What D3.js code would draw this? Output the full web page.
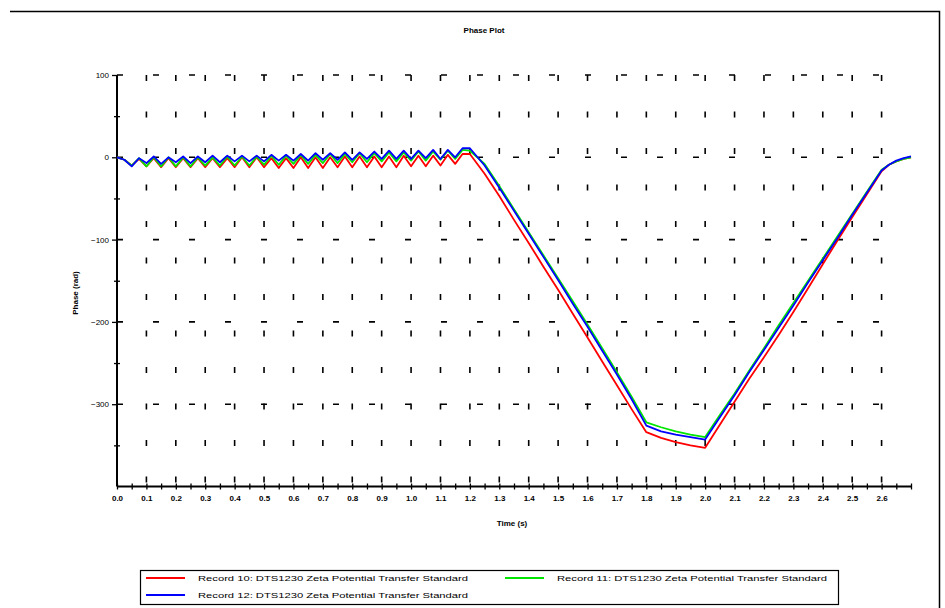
<!DOCTYPE html>
<html><head><meta charset="utf-8">
<script src="https://cdn.jsdelivr.net/npm/d3@7"></script>
<style>
body{margin:0;background:#fff;}
text{font-family:"Liberation Sans",Arial,sans-serif;fill:#000;}
</style></head>
<body><svg id="c" width="945" height="608"></svg>
<script>
const time = [0,0.025,0.05,0.075,0.1,0.125,0.15,0.175,0.2,0.225,0.25,0.275,0.3,0.325,0.35,0.375,0.4,0.425,0.45,0.475,0.5,0.525,0.55,0.575,0.6,0.625,0.65,0.675,0.7,0.725,0.75,0.775,0.8,0.825,0.85,0.875,0.9,0.925,0.95,0.975,1.0,1.025,1.05,1.075,1.1,1.125,1.15,1.175,1.2,
  1.25,1.3,1.35,1.4,1.45,1.5,1.55,1.6,1.65,1.7,1.75,1.8,1.85,1.9,1.95,2.0,2.05,2.1,2.15,2.2,2.25,2.3,2.35,2.4,2.45,2.5,2.55,2.6,2.625,2.65,2.675,2.7];
const record10 = [0,-3,-10,-2,-11,-1,-12,-1,-12,-1,-12,-1,-12,-1,-12,-1,-12,0,-12,0,-12,-1,-13,-1,-13,0,-13,0,-13,0,-12,1,-12,1,-12,1,-12,1,-12,2,-11,2,-11,2,-10,3,-8,4,4,
  -20,-47,-76,-104,-133,-161,-190,-219,-248,-277,-306,-334,-341,-346,-350,-353,-325,-297,-269,-243,-216,-188,-159,-130,-101,-73,-45,-17,-9,-5,-2,0];
const record11 = [0,-3,-10,-1,-11,0,-11,0,-11,0,-11,0,-10,0,-10,1,-10,1,-10,1,-9,2,-9,2,-8,3,-8,3,-7,4,-7,4,-6,5,-6,5,-5,6,-5,6,-4,7,-4,7,-3,8,-2,9,8,
  -8,-35,-63,-91,-119,-147,-175,-203,-232,-261,-291,-322,-328,-333,-337,-340,-313,-287,-259,-232,-204,-177,-150,-123,-96,-69,-42,-15,-9,-5,-2,0];
const record12 = [0,-3,-11,-1,-7,1,-8,0,-6,1,-7,1,-6,2,-6,2,-5,2,-5,2,-5,3,-4,3,-4,4,-4,5,-3,5,-3,6,-3,6,-2,7,-2,8,-2,8,-2,8,-1,9,-2,9,0,11,11,
  -10,-37,-65,-93,-121,-149,-178,-206,-235,-264,-294,-326,-333,-337,-340,-343,-316,-289,-261,-234,-207,-180,-152,-125,-98,-70,-43,-16,-9,-4,-1,1];
const seriesNames = ["Record 10: DTS1230 Zeta Potential Transfer Standard","Record 11: DTS1230 Zeta Potential Transfer Standard","Record 12: DTS1230 Zeta Potential Transfer Standard"];
const seriesColors = ["#ff0000","#00e600","#0000ff"];
const xTicks = [0,0.1,0.2,0.3,0.4,0.5,0.6,0.7,0.8,0.9,1.0,1.1,1.2,1.3,1.4,1.5,1.6,1.7,1.8,1.9,2.0,2.1,2.2,2.3,2.4,2.5,2.6];
const xMinor = [0.05,0.15,0.25,0.35,0.45,0.55,0.65,0.75,0.85,0.95,1.05,1.15,1.25,1.35,1.45,1.55,1.65,1.75,1.85,1.95,2.05,2.15,2.25,2.35,2.45,2.55,2.65,2.7];
const yTicks = [100,0,-100,-200,-300];
const yMinor = [50,-50,-150,-250,-350];
const title = "Phase Plot", xLabel = "Time (s)", yLabel = "Phase (rad)";

const svg = d3.select("#c");
const x = d3.scaleLinear().domain([0,2.7]).range([117,911]);
const y = d3.scaleLinear().domain([-400,100]).range([486.5,75]);

// outer frame
svg.append("path").attr("d","M10,11.5H939.5V608").attr("fill","none").attr("stroke","#000").attr("stroke-width",1.5);

// grid
const g = svg.append("g");
g.selectAll(".vg").data(xTicks.slice(1)).enter().append("line")
  .attr("x1",d=>x(d)).attr("x2",d=>x(d)).attr("y1",y(100)).attr("y2",y(-400))
  .attr("stroke","#000").attr("stroke-width",1.6).attr("stroke-dasharray","6,30.5");
g.selectAll(".hg").data(yTicks).enter().append("line")
  .attr("x1",x(0)).attr("x2",x(2.6)+1).attr("y1",d=>y(d)).attr("y2",d=>y(d))
  .attr("stroke","#000").attr("stroke-width",1.6).attr("stroke-dasharray","6,30");

// axes
const xa = svg.append("g").attr("transform",`translate(0,${y(-400)})`)
  .call(d3.axisBottom(x).tickValues(xTicks).tickSize(3).tickPadding(6).tickFormat(d3.format(".1f")));
const xm = svg.append("g").attr("transform",`translate(0,${y(-400)})`)
  .call(d3.axisBottom(x).tickValues(xMinor).tickSize(3).tickFormat(""));
[xa,xm].forEach(a=>{a.selectAll(".tick line").attr("y1",-3).attr("stroke-width",1.3); a.select(".domain").remove();});
xa.selectAll("text").attr("font-size","8px").attr("font-family","Liberation Sans, Arial, sans-serif").attr("font-weight","bold");
svg.append("line").attr("x1",x(0)).attr("x2",x(2.7)).attr("y1",y(-400)).attr("y2",y(-400)).attr("stroke","#000").attr("stroke-width",2);

const ya = svg.append("g").attr("transform",`translate(${x(0)},0)`)
  .call(d3.axisLeft(y).tickValues(yTicks).tickSize(5).tickPadding(3));
const ym = svg.append("g").attr("transform",`translate(${x(0)},0)`)
  .call(d3.axisLeft(y).tickValues(yMinor).tickSize(3).tickFormat(""));
ym.selectAll(".tick line").attr("x2",-3).attr("x1",3);
[ya,ym].forEach(a=>{a.selectAll(".tick line").attr("stroke-width",1.3); a.select(".domain").remove();});
ya.selectAll("text").attr("font-size","8px").attr("font-family","Liberation Sans, Arial, sans-serif");
svg.append("line").attr("x1",x(0)).attr("x2",x(0)).attr("y1",y(100)).attr("y2",y(-400)).attr("stroke","#000").attr("stroke-width",2);

// lines
const data = [record10, record11, record12];
const line = d3.line().x((d,i)=>x(time[i])).y(d=>y(d));
svg.append("g").selectAll("path").data(data).enter().append("path")
  .attr("d",line).attr("fill","none").attr("stroke",(d,i)=>seriesColors[i]).attr("stroke-width",1.8).attr("stroke-linejoin","round");

// labels
svg.append("text").attr("x",484).attr("y",33).attr("text-anchor","middle").attr("font-size","8px").attr("font-weight","bold").text(title);
svg.append("text").attr("x",512).attr("y",526).attr("text-anchor","middle").attr("font-size","8px").attr("font-weight","bold").text(xLabel);
svg.append("text").attr("transform","translate(78,293) rotate(-90)").attr("text-anchor","middle").attr("font-size","8px").attr("font-weight","bold").text(yLabel);

// legend
svg.append("rect").attr("x",140.5).attr("y",570.5).attr("width",698).attr("height",34).attr("fill","none").attr("stroke","#000").attr("stroke-width",1.2);
const leg = [{i:0,lx:146,ly:578},{i:1,lx:505,ly:578},{i:2,lx:146,ly:595}];
leg.forEach(l=>{
  svg.append("line").attr("x1",l.lx).attr("x2",l.lx+39).attr("y1",l.ly).attr("y2",l.ly).attr("stroke",seriesColors[l.i]).attr("stroke-width",2);
  svg.append("text").attr("x",l.lx+52).attr("y",l.ly+3).attr("font-size","8px").attr("textLength",270).attr("lengthAdjust","spacingAndGlyphs").text(seriesNames[l.i]);
});
</script></body></html>
